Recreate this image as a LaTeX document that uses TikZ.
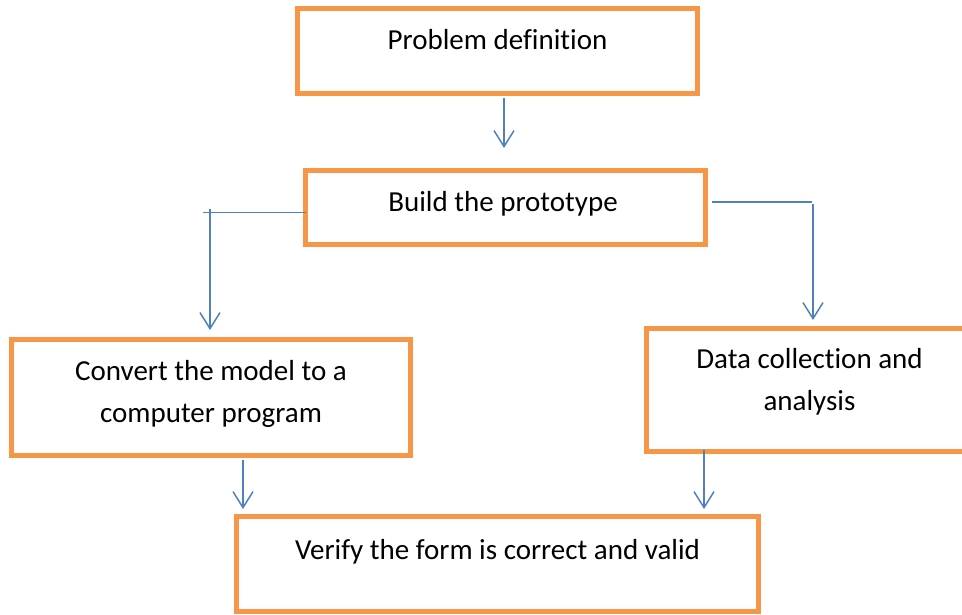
\documentclass[tikz,border=0pt]{standalone}
\usepackage{fontspec}
\setmainfont[Ligatures=NoCommon]{Carlito}
\usetikzlibrary{arrows.meta,calc}
\definecolor{boxorange}{HTML}{F79646}
\definecolor{lineblue}{HTML}{4F81BD}
\tikzset{
  stepbox/.style={draw=boxorange,line width=5pt,rectangle,inner sep=0pt,outer sep=0pt,fill=none},
  conn/.style={draw=lineblue,line width=1.5pt},
  arr/.style={conn,-{Straight Barb[length=16pt,width=20pt]}},
  lbl/.style={anchor=base,inner sep=0pt,align=center,font=\fontsize{29}{42}\selectfont}
}
\begin{document}
\begin{tikzpicture}[x=1pt,y=-1pt]
\useasboundingbox (0,0) rectangle (962,614);
% boxes
\node[stepbox,minimum width=400pt,minimum height=85pt] (b1) at (497.5,51) {};
\node[stepbox,minimum width=400pt,minimum height=74pt] (b2) at (505.5,207.5) {};
\node[stepbox,minimum width=399pt,minimum height=116pt] (b3) at (211,397.5) {};
\node[stepbox,minimum width=326pt,minimum height=123pt] (b4) at (809.5,390) {};
\node[stepbox,minimum width=522pt,minimum height=95pt] (b5) at (497.5,564) {};
% texts (multi-line nodes: base anchor is the last line's baseline)
\node[lbl] (t1) at (497.5,49) {Problem definition};
\node[lbl] (t2) at (503,211) {Build the prototype};
\node[lbl] (t3) at (211,422) {Convert the model to a\\computer program};
\node[lbl] (t4) at (809.5,410) {Data collection and\\analysis};
\node[lbl] (t5) at (497.5,559) {Verify the form is correct and valid};
% connector points
\coordinate (L1) at (203,212.7);
\coordinate (L2) at (210,209);
\coordinate (L3) at (210,330);
\coordinate (R1) at (712,202);
\coordinate (R2) at (812,202);
\coordinate (R3) at (813,204);
\coordinate (R4) at (813,320);
% connectors
\draw[arr] ([xshift=6.5pt,yshift=-4.5pt]b1.south) -- ([xshift=-1.5pt,yshift=22.5pt]b2.north);
\draw[conn] (b2.west |- L1) -- (L1);
\draw[arr] (L2) -- (L3);
\draw[conn] (R1) -- (R2);
\draw[arr] (R3) -- (R4);
\draw[arr] ([xshift=32pt,yshift=-4.5pt]b3.south) -- ([xshift=-254.5pt,yshift=7.5pt]b5.north);
\draw[arr] ([xshift=-105.5pt,yshift=1.5pt]b4.south) -- ([xshift=206.5pt,yshift=7.5pt]b5.north);
\end{tikzpicture}
\end{document}
